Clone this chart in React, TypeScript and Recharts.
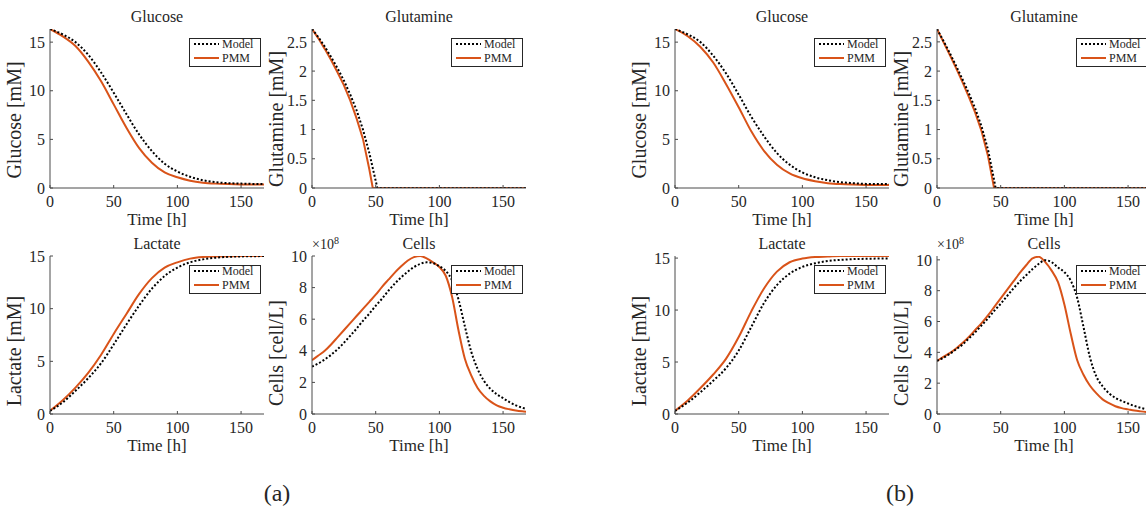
import React from "react";
import { LineChart, Line, XAxis, YAxis, Legend } from "recharts";

// time grids [h]
const hours10 = [0, 10, 20, 30, 40, 50, 60, 70, 80, 90, 100, 110, 120, 130, 140, 150, 160, 168];
const hours5 = [
  0, 5, 10, 15, 20, 25, 30, 35, 40, 45, 50, 55, 60, 65, 70, 75, 80, 85, 90, 95,
  100, 105, 110, 115, 120, 125, 130, 135, 140, 145, 150, 155, 160, 165, 168,
];
const glnHoursA = [0, 5, 10, 15, 20, 25, 30, 35, 40, 45, 47.7, 51.3, 60, 80, 100, 120, 140, 160, 168];
const glnHoursB = [0, 5, 10, 15, 20, 25, 30, 35, 40, 44.8, 46, 60, 80, 100, 120, 140, 160, 168];
const timeTicks = [0, 50, 100, 150];

// (a) glucose [mM]
const glcModelA = [16.35, 15.8, 15.0, 13.7, 11.9, 9.8, 7.6, 5.5, 3.8, 2.5, 1.7, 1.15, 0.8, 0.6, 0.5, 0.45, 0.42, 0.4];
const glcPmmA = [16.35, 15.6, 14.6, 13.0, 11.0, 8.6, 6.2, 4.1, 2.6, 1.6, 1.1, 0.75, 0.55, 0.45, 0.4, 0.37, 0.35, 0.35];
// (b) glucose [mM]
const glcModelB = [16.35, 15.8, 15.0, 13.6, 11.8, 9.6, 7.3, 5.3, 3.6, 2.4, 1.6, 1.1, 0.8, 0.6, 0.5, 0.42, 0.4, 0.4];
const glcPmmB = [16.35, 15.6, 14.5, 12.9, 10.7, 8.3, 5.8, 3.8, 2.4, 1.5, 1.0, 0.7, 0.5, 0.4, 0.35, 0.32, 0.3, 0.3];

// glutamine [mM]
const glnModelA = [2.72, 2.58, 2.42, 2.24, 2.05, 1.84, 1.6, 1.33, 1.0, 0.6, 0.34, 0, 0, 0, 0, 0, 0, 0, 0];
const glnPmmA = [2.72, 2.56, 2.38, 2.19, 1.98, 1.76, 1.5, 1.19, 0.84, 0.32, 0, 0, 0, 0, 0, 0, 0, 0, 0];
const glnModelB = [2.72, 2.52, 2.31, 2.09, 1.86, 1.62, 1.36, 1.05, 0.66, 0.14, 0, 0, 0, 0, 0, 0, 0, 0];
const glnPmmB = [2.72, 2.5, 2.28, 2.05, 1.81, 1.56, 1.29, 0.97, 0.55, 0, 0, 0, 0, 0, 0, 0, 0, 0];

// lactate [mM]
const lacModelA = [0.3, 1.1, 2.2, 3.4, 4.8, 6.6, 8.5, 10.3, 11.9, 13.1, 13.9, 14.4, 14.68, 14.84, 14.92, 14.96, 14.98, 15.0];
const lacPmmA = [0.3, 1.3, 2.5, 3.9, 5.6, 7.6, 9.5, 11.4, 12.9, 13.9, 14.4, 14.75, 14.9, 14.95, 14.98, 15.0, 15.0, 15.0];
const lacModelB = [0.3, 1.1, 2.1, 3.2, 4.4, 6.1, 8.4, 10.7, 12.4, 13.5, 14.15, 14.5, 14.72, 14.83, 14.9, 14.93, 14.95, 14.95];
const lacPmmB = [0.3, 1.3, 2.5, 3.8, 5.3, 7.4, 9.9, 12.1, 13.7, 14.6, 14.95, 15.1, 15.15, 15.2, 15.2, 15.2, 15.2, 15.2];

// cells [x1e8 cell/L]
const cellModelA = [
  3.0, 3.2, 3.45, 3.75, 4.1, 4.5, 4.95, 5.4, 5.9, 6.35, 6.85, 7.3, 7.8, 8.25, 8.65, 9.0, 9.3, 9.5, 9.6, 9.55,
  9.35, 9.05, 8.45, 7.25, 5.55, 3.95, 2.85, 2.1, 1.6, 1.25, 1.0, 0.75, 0.55, 0.4, 0.32,
];
const cellPmmA = [
  3.4, 3.7, 4.0, 4.4, 4.85, 5.3, 5.75, 6.2, 6.65, 7.1, 7.55, 8.05, 8.5, 8.95, 9.35, 9.7, 9.93, 10.0, 9.85, 9.6,
  9.3, 8.75, 7.4, 5.3, 3.5, 2.45, 1.65, 1.15, 0.8, 0.55, 0.4, 0.3, 0.22, 0.17, 0.15,
];
const cellModelB = [
  3.45, 3.65, 3.9, 4.2, 4.5, 4.9, 5.3, 5.75, 6.2, 6.7, 7.15, 7.65, 8.15, 8.6, 9.0, 9.4, 9.75, 9.98, 9.85, 9.5,
  9.2, 8.65, 7.55, 5.65, 3.7, 2.45, 1.8, 1.35, 1.05, 0.85, 0.68, 0.52, 0.4, 0.3, 0.25,
];
const cellPmmB = [
  3.45, 3.7, 3.95, 4.25, 4.6, 5.0, 5.45, 5.9, 6.4, 6.95, 7.5, 8.05, 8.6, 9.15, 9.65, 10.1, 10.2, 9.85, 9.3, 8.55,
  7.1, 5.2, 3.5, 2.55, 1.85, 1.35, 0.95, 0.7, 0.5, 0.38, 0.3, 0.22, 0.17, 0.13, 0.11,
];

const ORANGE = "#D95319";
const AXIS = "#4a4a4a";
const TEXT = "#262626";
const FONT = '"Liberation Serif", "Times New Roman", serif';

// space around the plot area inside each chart
const YW = 50;
const MT = 14;
const MR = 6;
const XH = 34;

const rows = (hours: number[], model: number[], pmm: number[]) =>
  hours.map((t, i) => ({ t, model: model[i], pmm: pmm[i] }));

function ModelPmmLegend() {
  return (
    <svg width={72} height={29} style={{ display: "block" }}>
      <rect x={0.5} y={0.5} width={71} height={28} fill="#fff" stroke={TEXT} strokeWidth={1} />
      <line x1={5} x2={30} y1={6} y2={6} stroke="#000" strokeWidth={2} strokeDasharray="2 2" />
      <text x={33} y={6} dominantBaseline="central" fontSize={12} fill={TEXT} fontFamily={FONT}>
        Model
      </text>
      <line x1={5} x2={30} y1={20} y2={20} stroke={ORANGE} strokeWidth={2} />
      <text x={33} y={20} dominantBaseline="central" fontSize={12} fill={TEXT} fontFamily={FONT}>
        PMM
      </text>
    </svg>
  );
}

type PanelProps = {
  x: number;
  y: number;
  w: number;
  h: number;
  title: string;
  yLabel: string;
  yLabelShift: number;
  domain: [number, number];
  yTicks: number[];
  data: { t: number; model: number; pmm: number }[];
  exponent?: boolean;
  curve: "monotone" | "linear";
};

function Panel({ x, y, w, h, title, yLabel, yLabelShift, domain, yTicks, data, curve, exponent }: PanelProps) {
  return (
    <>
      <div style={{ position: "absolute", left: x - YW, top: y - MT }}>
        <LineChart
          width={w + YW + MR}
          height={h + MT + XH}
          data={data}
          margin={{ top: MT, right: MR, bottom: 0, left: 0 }}
        >
          <XAxis
            dataKey="t"
            type="number"
            domain={[0, 168]}
            ticks={timeTicks}
            interval={0}
            tickSize={-3}
            tickMargin={11}
            height={XH}
            stroke={AXIS}
            tick={{ fontSize: 16, fill: TEXT }}
            allowDataOverflow
          />
          <XAxis
            xAxisId="top"
            orientation="top"
            dataKey="t"
            type="number"
            domain={[0, 168]}
            ticks={timeTicks}
            interval={0}
            tick={false}
            tickSize={-3}
            height={0}
            stroke={AXIS}
            allowDataOverflow
          />
          <YAxis
            type="number"
            domain={domain}
            ticks={yTicks}
            interval={0}
            tickSize={-3}
            tickMargin={8}
            width={YW}
            stroke={AXIS}
            tick={{ fontSize: 16, fill: TEXT }}
            allowDataOverflow
          />
          <YAxis
            yAxisId="right"
            orientation="right"
            type="number"
            domain={domain}
            ticks={yTicks}
            interval={0}
            tick={false}
            tickSize={-3}
            width={0}
            stroke={AXIS}
            allowDataOverflow
          />
          <Legend
            layout="vertical"
            align="center"
            verticalAlign="middle"
            content={() => <ModelPmmLegend />}
            wrapperStyle={{ left: YW + w - 75, top: MT + 9, width: 72, height: 29 }}
          />
          <Line
            name="PMM"
            dataKey="pmm"
            type={curve}
            stroke={ORANGE}
            strokeWidth={2}
            dot={false}
            isAnimationActive={false}
          />
          <Line
            name="Model"
            dataKey="model"
            type={curve}
            stroke="#000"
            strokeWidth={2}
            strokeDasharray="2 2"
            dot={false}
            isAnimationActive={false}
          />
        </LineChart>
      </div>
      <div
        style={{
          position: "absolute",
          left: x,
          top: y - 22,
          width: w,
          height: 20,
          lineHeight: "20px",
          textAlign: "center",
          fontSize: 16,
        }}
      >
        {title}
      </div>
      {exponent && (
        <div style={{ position: "absolute", left: x, top: y - 19, fontSize: 14, lineHeight: "16px", whiteSpace: "nowrap" }}>
          ×10<span style={{ fontSize: 10, position: "relative", top: -5 }}>8</span>
        </div>
      )}
      <div
        style={{
          position: "absolute",
          left: x,
          top: y + h + 22,
          width: w,
          height: 20,
          lineHeight: "20px",
          textAlign: "center",
          fontSize: 17,
        }}
      >
        Time [h]
      </div>
      <div
        style={{
          position: "absolute",
          left: x - 36 - 100,
          top: y + h / 2 + yLabelShift - 12,
          width: 200,
          height: 24,
          lineHeight: "24px",
          textAlign: "center",
          fontSize: 20,
          whiteSpace: "nowrap",
          transform: "rotate(-90deg)",
        }}
      >
        {yLabel}
      </div>
    </>
  );
}

const App = () => {
  const topY = 29;
  const topH = 159;
  const botY = 256;
  const botH = 158;
  const w = 214;
  const groups = [
    {
      left: 50,
      right: 312,
      glc: rows(hours10, glcModelA, glcPmmA),
      gln: rows(glnHoursA, glnModelA, glnPmmA),
      lac: rows(hours10, lacModelA, lacPmmA),
      cell: rows(hours5, cellModelA, cellPmmA),
      lacMax: 15,
      cellMax: 10,
    },
    {
      left: 675,
      right: 937,
      glc: rows(hours10, glcModelB, glcPmmB),
      gln: rows(glnHoursB, glnModelB, glnPmmB),
      lac: rows(hours10, lacModelB, lacPmmB),
      cell: rows(hours5, cellModelB, cellPmmB),
      lacMax: 15.2,
      cellMax: 10.25,
    },
  ];

  return (
    <div
      style={{
        position: "absolute",
        left: 0,
        top: 0,
        width: 1146,
        height: 510,
        overflow: "hidden",
        background: "#fff",
        fontFamily: FONT,
        color: TEXT,
      }}
    >
      {groups.map((g, i) => (
        <React.Fragment key={i}>
          <Panel
            x={g.left}
            y={topY}
            w={w}
            h={topH}
            title="Glucose"
            yLabel="Glucose [mM]"
            yLabelShift={11}
            domain={[0, 16.35]}
            yTicks={[0, 5, 10, 15]}
            data={g.glc}
            curve="monotone"
          />
          <Panel
            x={g.right}
            y={topY}
            w={w}
            h={topH}
            title="Glutamine"
            yLabel="Glutamine [mM]"
            yLabelShift={10}
            domain={[0, 2.72]}
            yTicks={[0, 0.5, 1, 1.5, 2, 2.5]}
            data={g.gln}
            curve="linear"
          />
          <Panel
            x={g.left}
            y={botY}
            w={w}
            h={botH}
            title="Lactate"
            yLabel="Lactate [mM]"
            yLabelShift={16}
            domain={[0, g.lacMax]}
            yTicks={[0, 5, 10, 15]}
            data={g.lac}
            curve="monotone"
          />
          <Panel
            x={g.right}
            y={botY}
            w={w}
            h={botH}
            title="Cells"
            yLabel="Cells [cell/L]"
            yLabelShift={18}
            domain={[0, g.cellMax]}
            yTicks={[0, 2, 4, 6, 8, 10]}
            data={g.cell}
            curve="monotone"
            exponent
          />
        </React.Fragment>
      ))}
      <div style={{ position: "absolute", left: 237, top: 478, width: 80, textAlign: "center", fontSize: 24, lineHeight: "30px" }}>
        (a)
      </div>
      <div style={{ position: "absolute", left: 860, top: 478, width: 80, textAlign: "center", fontSize: 24, lineHeight: "30px" }}>
        (b)
      </div>
    </div>
  );
};

export default App;
